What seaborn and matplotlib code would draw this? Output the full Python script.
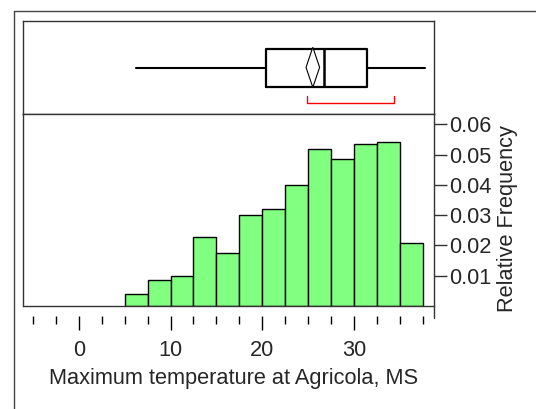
import matplotlib
matplotlib.use('Agg')
import matplotlib.pyplot as plt
from matplotlib.lines import Line2D
import seaborn as sns
import numpy as np

# ---- data ----
bin_edges = [5, 7.5, 10, 12.5, 15, 17.5, 20, 22.5, 25, 27.5, 30, 32.5, 35, 37.5]
rel_freq = [0.0041, 0.0087, 0.0100, 0.0227, 0.0174, 0.0300, 0.0320,
            0.0400, 0.0519, 0.0487, 0.0535, 0.0540, 0.0207]
whisker_low = 6.2
q1 = 20.4
median = 26.7
q3 = 31.4
whisker_high = 37.7
mean_value = 25.5
mean_ci_half = 0.74
shortest_half = [24.9, 34.3]
x_major_ticks = [0, 10, 20, 30]
x_minor_ticks = [-5, -2.5, 2.5, 5, 7.5, 12.5, 15, 17.5, 22.5, 25, 27.5, 32.5, 35, 37.5]
y_ticks = [0.01, 0.02, 0.03, 0.04, 0.05, 0.06]
x_label = "Maximum temperature at Agricola, MS"
y_label = "Relative Frequency"

sns.set_theme(style='white')
plt.rcParams['font.family'] = ['Liberation Sans', 'DejaVu Sans']

FS = 15.7
W, H = 536, 409
fig = plt.figure(figsize=(W / 100, H / 100), dpi=100)
fig.patch.set_facecolor('white')

L, R = 23, 434
box_top, mid, hist_bottom = 20.7, 114, 306
ax_box = fig.add_axes([L / W, 1 - mid / H, (R - L) / W, (mid - box_top) / H])
ax_hist = fig.add_axes([L / W, 1 - hist_bottom / H, (R - L) / W, (hist_bottom - mid) / H])

xlim = (-6.07, 38.7)
spine_col = '#333333'

# ---- histogram ----
centers = [(a + b) / 2 for a, b in zip(bin_edges[:-1], bin_edges[1:])]
sns.histplot(x=centers, weights=rel_freq, bins=bin_edges, stat='count',
             color='#80FF80', alpha=1, edgecolor='black', linewidth=1, ax=ax_hist)
ax_hist.set_xlim(*xlim)
ax_hist.set_ylim(0, 0.0634)
ax_hist.set_xlabel(x_label, fontsize=FS)
ax_hist.xaxis.set_label_coords((234 - L) / (R - L), -(368 - hist_bottom) / (hist_bottom - mid))
ax_hist.yaxis.tick_right()
ax_hist.set_ylabel('')
ax_hist.set_yticks(y_ticks)
ax_hist.set_yticklabels([f"{v:.2f}" for v in y_ticks])
ax_hist.tick_params(axis='y', which='major', right=True, left=False, direction='out',
                    length=9, width=1, color=spine_col, pad=2, labelsize=FS)
ax_hist.set_xticks(x_major_ticks)
ax_hist.set_xticklabels([str(v) for v in x_major_ticks])
ax_hist.set_xticks(x_minor_ticks, minor=True)
ax_hist.tick_params(axis='x', which='major', bottom=True, direction='out',
                    length=10, width=1, color='black', pad=7, labelsize=FS)
ax_hist.tick_params(axis='x', which='minor', bottom=True, direction='out',
                    length=5.5, width=1, color='black')
for s in ['top', 'left', 'right']:
    ax_hist.spines[s].set_visible(True)
    ax_hist.spines[s].set_color(spine_col)
    ax_hist.spines[s].set_linewidth(1)
ax_hist.spines['bottom'].set_position(('outward', 7.5))
ax_hist.spines['bottom'].set_visible(False)
ax_hist.axhline(0, color=spine_col, lw=1, clip_on=False)
ax_hist.grid(False)
fig.text(507 / W, 1 - 219 / H, y_label, rotation=90, ha='center', va='center', fontsize=FS)

# ---- box plot ----
stats = [dict(whislo=whisker_low, q1=q1, med=median, q3=q3, whishi=whisker_high,
              mean=mean_value, fliers=[])]
ax_box.bxp(stats, positions=[0.49], widths=[0.407], orientation='horizontal',
           showfliers=False, showcaps=False, showmeans=False, patch_artist=False,
           boxprops=dict(color='black', lw=1.6),
           whiskerprops=dict(color='black', lw=1.5),
           medianprops=dict(color='black', lw=1.8))
ax_box.fill([mean_value - mean_ci_half, mean_value, mean_value + mean_ci_half, mean_value],
            [0.5, 0.715, 0.5, 0.285], facecolor='white', edgecolor='black', lw=0.8, zorder=5)
a, b = shortest_half
ax_box.plot([a, a, b, b], [0.19, 0.115, 0.115, 0.19], color='red', lw=1)
ax_box.set_xlim(*xlim)
ax_box.set_ylim(0, 1)
ax_box.set_xticks([])
ax_box.set_yticks([])
for s in ax_box.spines.values():
    s.set_visible(True)
    s.set_color(spine_col)
    s.set_linewidth(1)

# ---- outer frame lines ----
fig.add_artist(Line2D([13.5 / W, 13.5 / W], [0, 1 - 10.7 / H], transform=fig.transFigure,
                      color='#444444', lw=1))
fig.add_artist(Line2D([13.5 / W, 1], [1 - 10.7 / H, 1 - 10.7 / H], transform=fig.transFigure,
                      color='#444444', lw=1))
fig.add_artist(Line2D([R / W, R / W], [1 - hist_bottom / H, 1 - 318 / H], transform=fig.transFigure,
                      color=spine_col, lw=1))

fig.savefig('out.png', dpi=100, facecolor='white')
